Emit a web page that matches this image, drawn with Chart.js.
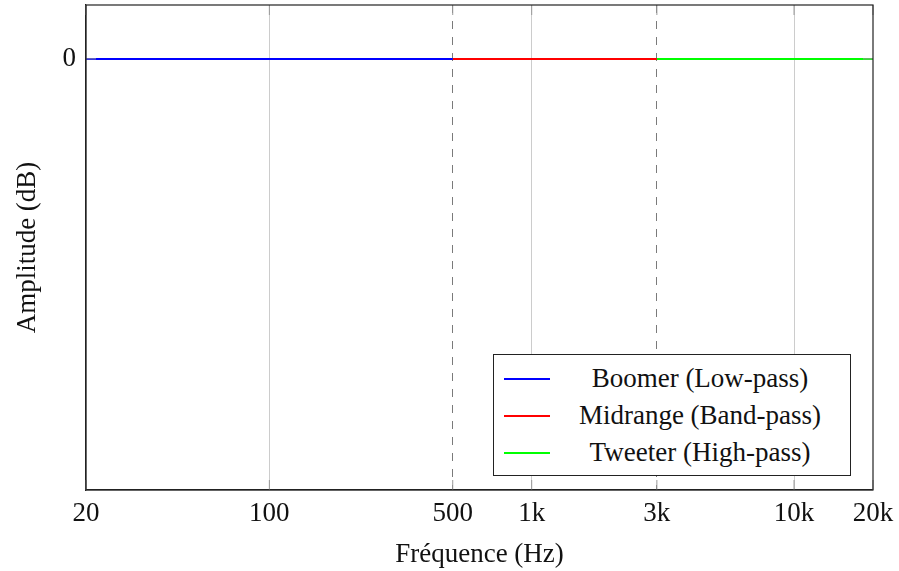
<!DOCTYPE html>
<html>
<head>
<meta charset="utf-8">
<script src="https://cdn.jsdelivr.net/npm/chart.js@4"></script>
<style>
  html, body { margin: 0; padding: 0; background: #fff; }
  #wrap { position: relative; width: 899px; height: 571px; }
  #legend {
    position: absolute; left: 493px; top: 354px; width: 358px; height: 122px;
    border: 1px solid #222; background: #fff; box-sizing: border-box;
    font-family: 'Liberation Serif', serif; font-size: 27px; color: #111;
    padding-top: 5px;
  }
  .row { display: flex; align-items: center; height: 37px; }
  .swatch { width: 46px; height: 2px; margin-left: 10px; flex: none; }
  .label { flex: 1; text-align: center; white-space: nowrap; }
</style>
</head>
<body>
<div id="wrap">
  <canvas id="chart" width="899" height="571"></canvas>
  <div id="legend"></div>
</div>
<script>
// Data
const boomerFreq = [20, 50, 100, 200, 500];
const boomerDb = [0, 0, 0, 0, 0];
const midFreq = [500, 1000, 2000, 3000];
const midDb = [0, 0, 0, 0];
const tweeterFreq = [3000, 5000, 10000, 20000];
const tweeterDb = [0, 0, 0, 0];

const xTicks = [20, 100, 500, 1000, 3000, 10000, 20000];
const xTickLabels = ['20', '100', '500', '1k', '3k', '10k', '20k'];
const yTicks = [0];
const crossovers = [500, 3000];

const series = [
    { label: 'Boomer (Low-pass)', freq: boomerFreq, db: boomerDb, color: '#0000ff' },
    { label: 'Midrange (Band-pass)', freq: midFreq, db: midDb, color: '#ff0000' },
    { label: 'Tweeter (High-pass)', freq: tweeterFreq, db: tweeterDb, color: '#00ff00' }
];

const serif = "'Liberation Serif', 'DejaVu Serif', serif";
Chart.defaults.font.family = serif;
Chart.defaults.color = '#111';

// Frame around the plot area plus short inner tick marks (pgfplots style)
const framePlugin = {
    id: 'frame',
    afterDraw(chart) {
        const { ctx, chartArea: a, scales } = chart;
        ctx.save();
        ctx.strokeStyle = '#999';
        ctx.lineWidth = 1;
        xTicks.forEach(v => {
            const px = scales.x.getPixelForValue(v);
            ctx.beginPath();
            ctx.moveTo(px, a.top); ctx.lineTo(px, a.top + 10);
            ctx.moveTo(px, a.bottom); ctx.lineTo(px, a.bottom - 10);
            ctx.stroke();
        });
        yTicks.forEach(v => {
            const py = scales.y.getPixelForValue(v);
            ctx.beginPath();
            ctx.moveTo(a.left, py); ctx.lineTo(a.left + 10, py);
            ctx.moveTo(a.right, py); ctx.lineTo(a.right - 10, py);
            ctx.stroke();
        });
        ctx.strokeStyle = '#222';
        ctx.lineWidth = 1.2;
        ctx.strokeRect(a.left, a.top, a.right - a.left, a.bottom - a.top);
        ctx.restore();
    }
};

new Chart(document.getElementById('chart'), {
    type: 'line',
    data: {
        datasets: series.map(s => ({
            label: s.label,
            data: s.freq.map((f, i) => ({ x: f, y: s.db[i] })),
            borderColor: s.color,
            backgroundColor: s.color,
            borderWidth: 2,
            pointRadius: 0,
            tension: 0
        }))
    },
    options: {
        responsive: false,
        animation: false,
        layout: { padding: { top: 5, right: 26, left: 0, bottom: 0 } },
        plugins: {
            legend: { display: false },
            tooltip: { enabled: false }
        },
        scales: {
            x: {
                type: 'logarithmic',
                min: 20,
                max: 20000,
                afterBuildTicks: scale => { scale.ticks = xTicks.map(v => ({ value: v })); },
                afterFit: scale => {
                    scale.height = 81;
                    scale.paddingLeft = 0;
                    scale.paddingRight = 0;
                },
                ticks: {
                    autoSkip: false,
                    maxRotation: 0,
                    padding: 8,
                    font: { size: 27 },
                    callback: function(value) {
                        const i = xTicks.indexOf(value);
                        return i >= 0 ? xTickLabels[i] : '';
                    }
                },
                grid: {
                    drawTicks: false,
                    lineWidth: ctx => (ctx.tick && (ctx.tick.value === 20 || ctx.tick.value === 20000)) ? 0 : 1,
                    color: ctx => (ctx.tick && crossovers.includes(ctx.tick.value)) ? '#7a7a7a' : '#cccccc'
                },
                border: {
                    color: '#222',
                    width: 1.2,
                    dash: ctx => (ctx.tick && crossovers.includes(ctx.tick.value)) ? [8, 8] : []
                },
                title: {
                    display: true,
                    text: 'Fréquence (Hz)',
                    font: { size: 27 },
                    padding: { top: 0, bottom: 0 }
                }
            },
            y: {
                min: -80,
                max: 10,
                afterBuildTicks: scale => { scale.ticks = yTicks.map(v => ({ value: v })); },
                afterFit: scale => {
                    scale.width = 86;
                    scale.paddingTop = 0;
                    scale.paddingBottom = 0;
                },
                ticks: {
                    padding: 10,
                    font: { size: 27 },
                    callback: value => value
                },
                grid: { display: false, drawTicks: false },
                border: { color: '#222', width: 1.2 },
                title: {
                    display: true,
                    text: 'Amplitude (dB)',
                    font: { size: 27 },
                    padding: { top: 12, bottom: 0 }
                }
            }
        }
    },
    plugins: [framePlugin]
});

// Legend box inside the plot
const legendEl = document.getElementById('legend');
series.forEach(s => {
    const row = document.createElement('div');
    row.className = 'row';
    row.innerHTML = `<span class="swatch" style="background:${s.color}"></span><span class="label">${s.label}</span>`;
    legendEl.appendChild(row);
});
</script>
</body>
</html>
